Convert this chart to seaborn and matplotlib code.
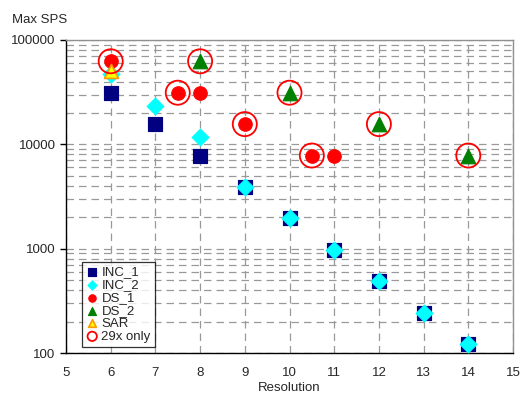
import matplotlib
matplotlib.use('Agg')
import matplotlib.pyplot as plt
import matplotlib.ticker as mticker
import pandas as pd
import seaborn as sns

# data
inc1_res = [6, 7, 8, 9, 10, 11, 12, 13, 14]
inc1_sps = [31250, 15625, 7812, 3906, 1953, 977, 488, 244, 122]
inc2_res = [6, 7, 8, 9, 10, 11, 12, 13, 14]
inc2_sps = [46875, 23437, 11718, 3906, 1953, 977, 488, 244, 122]
ds1_res = [6, 7.5, 8, 9, 10.5, 11]
ds1_sps = [62500, 31250, 31250, 15625, 7812, 7812]
ds2_res = [8, 10, 12, 14]
ds2_sps = [62500, 31250, 15625, 7812]
sar_res = [6]
sar_sps = [50000]
only29_res = [6, 7.5, 8, 9, 10, 10.5, 12, 14]
only29_sps = [62500, 31250, 62500, 15625, 31250, 7812, 15625, 7812]

sns.set_style('white')
plt.rcParams['font.family'] = ['Liberation Sans', 'DejaVu Sans']
plt.rcParams['font.size'] = 9

fig = plt.figure(figsize=(5.21, 3.96), dpi=100)
ax = fig.add_axes([66 / 521, 1 - 353 / 396, 447 / 521, 313 / 396])

series = [
    ('INC_1', inc1_res, inc1_sps, dict(marker='s', color='#000080', edgecolor='#000080', s=110)),
    ('INC_2', inc2_res, inc2_sps, dict(marker='D', color='#00ffff', edgecolor='#00ffff', s=75)),
    ('DS_1', ds1_res, ds1_sps, dict(marker='o', color='#ff0000', edgecolor='#ff0000', s=95)),
    ('DS_2', ds2_res, ds2_sps, dict(marker='^', color='#008000', edgecolor='#008000', s=110)),
    ('SAR', sar_res, sar_sps, dict(marker='^', color='#ffff00', edgecolor='#ff9900', s=100, linewidth=1.2)),
    ('29x only', only29_res, only29_sps, dict(marker='o', color='none', edgecolor='#ff0000', s=300, linewidth=1.3)),
]

for name, xs, ys, kw in series:
    df = pd.DataFrame({'Resolution': xs, 'SPS': ys})
    sns.scatterplot(data=df, x='Resolution', y='SPS', ax=ax, label=name,
                    zorder=3, **kw)

ax.set_yscale('log')
ax.set_xlim(5, 15)
ax.set_ylim(100, 100000)
ax.xaxis.set_major_locator(mticker.MultipleLocator(1))
ax.yaxis.set_major_locator(mticker.LogLocator(base=10))
ax.yaxis.set_minor_locator(mticker.LogLocator(base=10, subs=range(2, 10)))
ax.yaxis.set_major_formatter(mticker.FuncFormatter(lambda v, p: f'{int(round(v))}'))
ax.yaxis.set_minor_formatter(mticker.NullFormatter())

# dashed grid, vertical at integers, horizontal at every log step
grid_kw = dict(color='#999999', linestyle=(0, (6, 4)), linewidth=0.9)
ax.grid(True, which='major', axis='both', **grid_kw)
ax.grid(True, which='minor', axis='y', **grid_kw)
ax.set_axisbelow(True)

for side in ['left', 'bottom']:
    ax.spines[side].set_color('black')
    ax.spines[side].set_linewidth(1.0)
for side in ['top', 'right']:
    ax.spines[side].set_color('#909090')
    ax.spines[side].set_linewidth(1.0)

ax.tick_params(axis='x', which='major', direction='inout', length=8, width=1,
               color='black', labelsize=9.5, pad=6)
ax.tick_params(axis='y', which='major', direction='out', length=4, width=1,
               color='black', labelsize=9.5, left=True)
ax.tick_params(axis='y', which='minor', left=False)

ax.set_xlabel('Resolution', fontsize=9.5, labelpad=2)
ax.set_ylabel('')
fig.text(12 / 521, 1 - 20 / 396, 'Max SPS', fontsize=9.5, va='center', ha='left')

handles, labels = ax.get_legend_handles_labels()
leg = ax.legend(handles, labels, loc='lower left', bbox_to_anchor=(0.035, 0.02),
                frameon=True, fancybox=False, fontsize=9.5, markerscale=0.55,
                handletextpad=0.2, labelspacing=0.05, borderpad=0.3,
                handlelength=1.0, borderaxespad=0)
leg.get_frame().set_edgecolor('black')
leg.get_frame().set_linewidth(0.9)
# shrink the open circle handle to the others' size
leg.legend_handles[-1].set_sizes([45])

fig.savefig('out.png', dpi=100)
